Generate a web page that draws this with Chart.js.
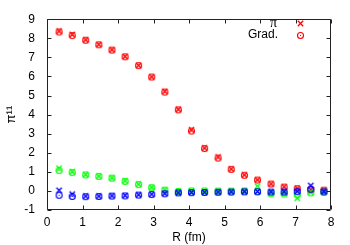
<!DOCTYPE html>
<html>
<head>
<meta charset="utf-8">
<script src="https://cdn.jsdelivr.net/npm/chart.js@4/dist/chart.umd.min.js"></script>
<style>
  html, body { margin: 0; padding: 0; background: #fff; }
  canvas { display: block; }
</style>
</head>
<body>
<canvas id="c" width="350" height="245"></canvas>
<script>
// data
const R = [0.34, 0.71, 1.09, 1.46, 1.83, 2.20, 2.58, 2.95, 3.32, 3.70, 4.07,
           4.44, 4.82, 5.19, 5.56, 5.93, 6.31, 6.68, 7.05, 7.43, 7.80];

const redPi    = [8.38, 8.20, 7.92, 7.68, 7.40, 7.05, 6.58, 5.98, 5.22, 4.28, 3.20,
                  2.25, 1.78, 1.15, 0.84, 0.58, 0.37, 0.22, 0.14, 0.07, 0.05];
const redGrad  = [8.33, 8.14, 7.90, 7.66, 7.38, 7.03, 6.57, 5.97, 5.18, 4.25, 3.14,
                  2.22, 1.72, 1.13, 0.82, 0.57, 0.36, 0.20, 0.12, 0.07, 0.04];
const greenPi   = [1.19, 1.01, 0.86, 0.78, 0.69, 0.53, 0.36, 0.19, 0.06, -0.02, 0.01,
                   0.00, 0.00, 0.00, 0.01, 0.25, -0.10, -0.12, -0.38, -0.07, -0.05];
const greenGrad = [1.07, 0.96, 0.84, 0.76, 0.67, 0.50, 0.33, 0.17, 0.04, -0.03, 0.00,
                   0.00, -0.01, -0.01, 0.00, -0.03, -0.15, -0.16, -0.20, -0.10, -0.07];
const bluePi    = [0.03, -0.17, -0.27, -0.27, -0.25, -0.24, -0.20, -0.17, -0.13, -0.10, -0.08,
                   -0.07, -0.06, -0.05, -0.04, -0.03, -0.04, -0.04, -0.02, 0.28, -0.03];
const blueGrad  = [-0.23, -0.29, -0.30, -0.29, -0.27, -0.26, -0.22, -0.19, -0.15, -0.10, -0.09,
                   -0.08, -0.07, -0.06, -0.05, -0.05, -0.06, -0.06, -0.04, 0.09, -0.05];

const xTicks = [0, 1, 2, 3, 4, 5, 6, 7, 8];
const yTicks = [-1, 0, 1, 2, 3, 4, 5, 6, 7, 8, 9];

const RED = "#ff0000", GREEN = "#00ff00", BLUE = "#0000ff";
const FONT = "Liberation Sans";

/** small canvas markers in gnuplot style */
function crossMark(color) {
  const c = document.createElement("canvas");
  c.width = 9; c.height = 9;
  const g = c.getContext("2d");
  g.strokeStyle = color; g.lineWidth = 1.3;
  g.beginPath();
  g.moveTo(1.8, 1.8); g.lineTo(7.2, 7.2);
  g.moveTo(7.2, 1.8); g.lineTo(1.8, 7.2);
  g.stroke();
  return c;
}
function circleMark(color) {
  const c = document.createElement("canvas");
  c.width = 9; c.height = 9;
  const g = c.getContext("2d");
  g.strokeStyle = color; g.fillStyle = color; g.lineWidth = 1.1;
  g.beginPath(); g.arc(4.5, 4.5, 3, 0, Math.PI * 2); g.stroke();
  g.fillRect(4, 4, 1, 1);
  return c;
}

const pts = ys => ys.map((y, i) => ({ x: R[i], y }));
function series(label, ys, mark) {
  return { label, data: pts(ys), pointStyle: mark, pointRadius: 4,
           showLine: false, borderColor: "transparent", backgroundColor: "transparent" };
}

// first dataset is drawn on top in Chart.js, so blue goes first
const datasets = [
  series("blue grad", blueGrad, circleMark(BLUE)),
  series("blue pi", bluePi, crossMark(BLUE)),
  series("green grad", greenGrad, circleMark(GREEN)),
  series("green pi", greenPi, crossMark(GREEN)),
  series("Grad.", redGrad, circleMark(RED)),
  series("π", redPi, crossMark(RED)),
];

/** frame with inward ticks on all four sides, plus the key */
const frame = {
  id: "frame",
  afterDraw(chart) {
    const ctx = chart.ctx;
    const { left, right, top, bottom } = chart.chartArea;
    const xs = chart.scales.x, ys = chart.scales.y;
    const L = Math.round(left) + 0.5, Rt = Math.round(right) - 0.5;
    const T = Math.round(top) + 0.5, B = Math.round(bottom) - 0.5;
    ctx.save();
    ctx.strokeStyle = "#222";
    ctx.lineWidth = 1;
    ctx.beginPath();
    ctx.rect(L, T, Rt - L, B - T);
    xTicks.forEach(v => {
      const px = Math.round(xs.getPixelForValue(v)) + 0.5;
      ctx.moveTo(px, B); ctx.lineTo(px, B - 4);
      ctx.moveTo(px, T); ctx.lineTo(px, T + 4);
    });
    yTicks.forEach(v => {
      const py = Math.round(ys.getPixelForValue(v)) + 0.5;
      ctx.moveTo(L, py); ctx.lineTo(L + 4, py);
      ctx.moveTo(Rt, py); ctx.lineTo(Rt - 4, py);
    });
    ctx.stroke();

    // key
    ctx.fillStyle = "#000";
    ctx.textAlign = "right";
    ctx.textBaseline = "middle";
    ctx.font = "14px 'Liberation Serif'";
    ctx.fillText("π", 277, 23);
    ctx.font = "12px '" + FONT + "'";
    ctx.fillText("Grad.", 278, 35);
    ctx.drawImage(crossMark(RED), 296, 19);
    ctx.drawImage(circleMark(RED), 296, 31);
    ctx.restore();
  }
};

new Chart(document.getElementById("c"), {
  type: "scatter",
  data: { datasets },
  plugins: [frame],
  options: {
    responsive: false,
    animation: false,
    layout: { padding: { left: 0, right: 19, top: 14, bottom: 0 } },
    plugins: { legend: { display: false }, tooltip: { enabled: false } },
    scales: {
      x: {
        type: "linear", min: 0, max: 8,
        afterFit: s => { s.height = 35; },
        afterBuildTicks: s => { s.ticks = xTicks.map(v => ({ value: v })); },
        grid: { display: false, drawTicks: false },
        border: { display: false },
        ticks: { color: "#000", padding: 5, font: { family: FONT, size: 12 } },
        title: { display: true, text: "R (fm)", color: "#000", padding: 0,
                 font: { family: FONT, size: 12 } },
      },
      y: {
        type: "linear", min: -1, max: 9,
        afterFit: s => { s.width = 47; },
        afterBuildTicks: s => { s.ticks = yTicks.map(v => ({ value: v })); },
        grid: { display: false, drawTicks: false },
        border: { display: false },
        ticks: { color: "#000", padding: 12, font: { family: FONT, size: 12 } },
        title: { display: true, text: "π¹¹", color: "#000", padding: { top: 4, bottom: 0 },
                 font: { family: FONT, size: 13 } },
      },
    },
  },
});
</script>
</body>
</html>
